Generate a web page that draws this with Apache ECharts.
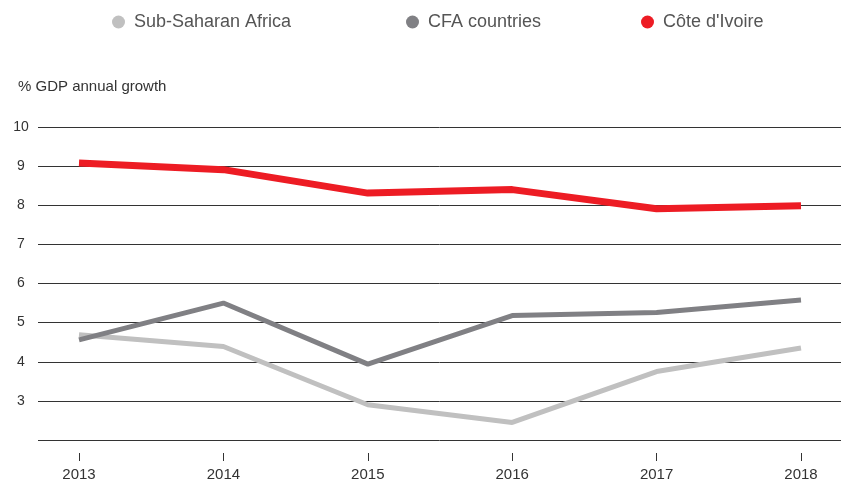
<!DOCTYPE html>
<html>
<head>
<meta charset="utf-8">
<script src="https://cdn.jsdelivr.net/npm/echarts@6/dist/echarts.min.js"></script>
<style>
html,body{margin:0;padding:0;background:#fff;}
#chart{width:841px;height:486px;}
</style>
</head>
<body>
<div id="chart"></div>
<script>
var years = ['2013','2014','2015','2016','2017','2018'];
var subSaharan = [4.69, 4.39, 2.90, 2.45, 3.75, 4.35];
var cfa = [4.56, 5.50, 3.94, 5.18, 5.26, 5.58];
var coteIvoire = [9.08, 8.91, 8.31, 8.40, 7.91, 7.99];
var yMin = 2, yMax = 10, yStep = 1;
var yTitle = '% GDP annual growth';
var names = ['Sub-Saharan Africa', 'CFA countries', "Côte d'Ivoire"];
var colors = ['#c0c0c0', '#808084', '#ed1c24'];

var font = 'Liberation Sans, Arial, Helvetica, sans-serif';
var chart = echarts.init(document.getElementById('chart'));

function legendFor(i, left) {
  return {
    data: [names[i]], left: left, top: 8, icon: 'circle',
    itemWidth: 13, itemHeight: 13,
    textStyle: {fontFamily: font, fontSize: 18, color: '#555', padding: [0,0,0,4]},
    selectedMode: false
  };
}

chart.setOption({
  animation: false,
  title: {text: yTitle, left: 13, top: 74, textStyle: {fontFamily: font, fontSize: 15, fontWeight: 'normal', color: '#333'}},
  legend: [legendFor(0, 107), legendFor(1, 401), legendFor(2, 636)],
  grid: [
    {left: 38, right: 0, top: 127, bottom: 46},
    {left: 79, right: 40, top: 127, bottom: 46}
  ],
  xAxis: [
    {gridIndex: 0, type: 'value', show: false, min: 0, max: 1},
    {gridIndex: 1, type: 'category', data: years, boundaryGap: false, offset: 13,
     axisLine: {show: false},
     axisTick: {show: true, length: 8, lineStyle: {color: '#333', width: 1}},
     axisLabel: {fontFamily: font, fontSize: 15, color: '#333', margin: 14},
     splitLine: {show: false}}
  ],
  yAxis: [
    {gridIndex: 0, type: 'value', min: yMin, max: yMax, interval: yStep,
     axisLine: {show: false}, axisTick: {show: false},
     axisLabel: {fontFamily: font, fontSize: 14, color: '#333', align: 'center', margin: 17,
       verticalAlign: 'middle', padding: [0,0,10,0],
       formatter: function(v){ return v === yMin ? '' : String(v); }},
     splitLine: {show: true, lineStyle: {color: '#333', width: 1}}},
    {gridIndex: 1, type: 'value', min: yMin, max: yMax, interval: yStep, show: false,
     splitLine: {show: false}}
  ],
  series: [
    {name: names[0], type: 'line', xAxisIndex: 1, yAxisIndex: 1, data: subSaharan, symbol: 'none',
     itemStyle: {color: colors[0]}, lineStyle: {color: colors[0], width: 5}},
    {name: names[1], type: 'line', xAxisIndex: 1, yAxisIndex: 1, data: cfa, symbol: 'none',
     itemStyle: {color: colors[1]}, lineStyle: {color: colors[1], width: 5}},
    {name: names[2], type: 'line', xAxisIndex: 1, yAxisIndex: 1, data: coteIvoire, symbol: 'none',
     itemStyle: {color: colors[2]}, lineStyle: {color: colors[2], width: 7}}
  ]
});
</script>
</body>
</html>
